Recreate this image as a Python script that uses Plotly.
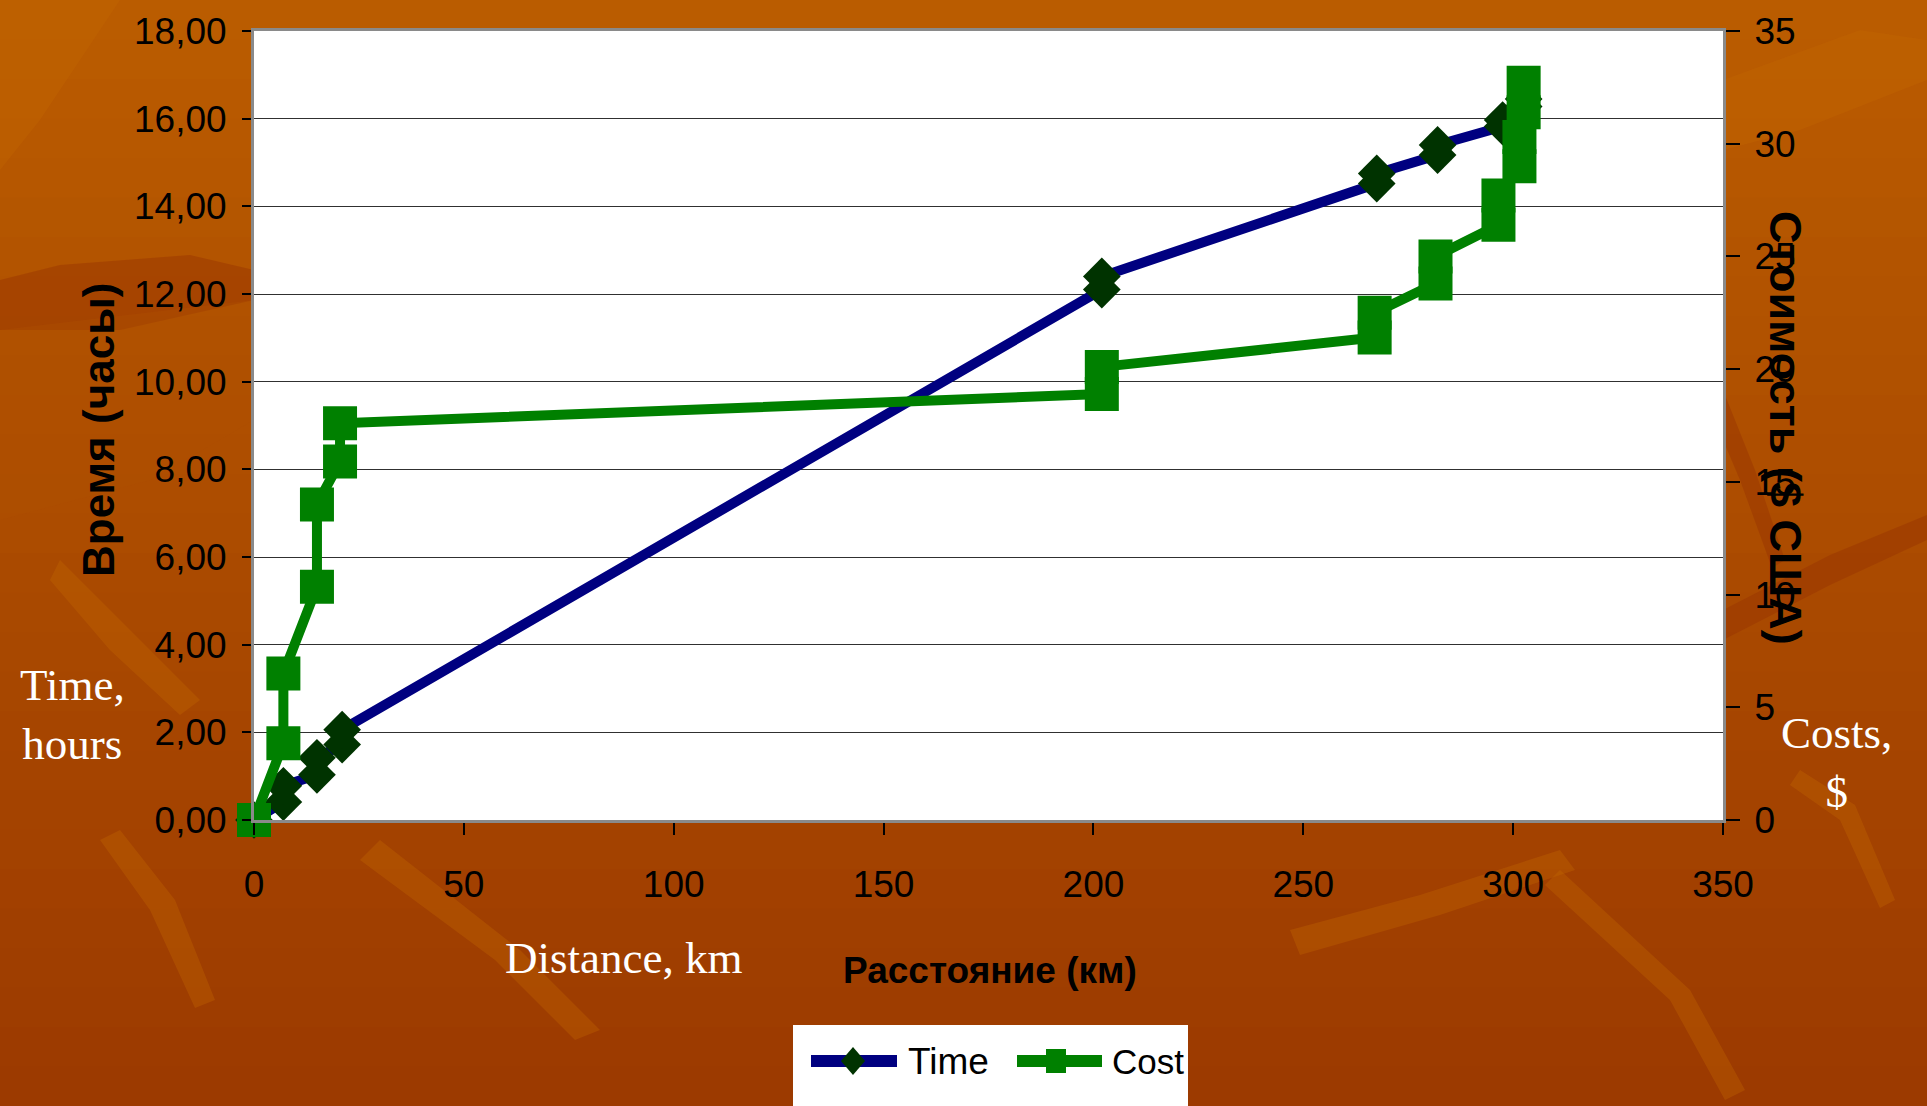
import plotly.graph_objects as go

# ---- data -------------------------------------------------------------
# travel time along the route (arrival / departure at each stop)
time_distance_km = [0, 7, 7, 15, 15, 21, 21, 202, 202, 267.5, 267.5,
                    282, 282, 297.5, 297.5, 302.5, 302.5]
time_hours = [0, 0.41, 0.78, 1.03, 1.42, 1.72, 2.06, 12.1, 12.4, 14.52, 14.75,
              15.17, 15.4, 15.82, 15.97, 16.28, 16.45]

# accumulated cost along the route
cost_distance_km = [0, 7, 7, 15, 15, 20.5, 20.5, 202, 202, 267, 267,
                    281.5, 281.5, 296.5, 296.5, 301.5, 301.5, 302.5, 302.5]
cost_usd = [0, 3.4, 6.5, 10.35, 14.0, 15.9, 17.6, 18.9, 20.1, 21.4, 22.5,
            23.8, 25.0, 26.4, 27.7, 29.0, 30.3, 31.4, 32.7]

x_ticks = [0, 50, 100, 150, 200, 250, 300, 350]
time_ticks = [0, 2, 4, 6, 8, 10, 12, 14, 16, 18]
cost_ticks = [0, 5, 10, 15, 20, 25, 30, 35]

series_names = ["Time", "Cost"]

# ---- page geometry (pixels) ------------------------------------------
W, H = 1927, 1106
PL, PR, PT, PB = 254, 1723, 31, 820


def fx(x):
    return (x - PL) / (PR - PL)


def fy(y):
    return (PB - y) / (PB - PT)


NAVY = "#000080"
GREEN = "#008000"
DARK = "#003300"
NARROW = "Liberation Sans Narrow, Arial Narrow, Liberation Sans, Arial, sans-serif"
SANS = "Liberation Sans, Arial, sans-serif"
SERIF = "Liberation Serif, Times New Roman, serif"

fig = go.Figure()

fig.add_trace(go.Scatter(
    x=time_distance_km, y=time_hours, name=series_names[0], mode="lines+markers",
    line=dict(color=NAVY, width=10),
    marker=dict(symbol="diamond", size=29, color=DARK, line=dict(width=0)),
    yaxis="y", showlegend=False, hoverinfo="skip", cliponaxis=False,
))
fig.add_trace(go.Scatter(
    x=cost_distance_km, y=cost_usd, name=series_names[1], mode="lines+markers",
    line=dict(color=GREEN, width=10),
    marker=dict(symbol="square", size=34, color=GREEN, line=dict(width=0)),
    yaxis="y2", showlegend=False, hoverinfo="skip", cliponaxis=False,
))

# ---- background: warm orange gradient with soft streaks --------------
shapes = []
top_rgb = (186, 92, 0)
bot_rgb = (156, 58, 0)
n_bands = 28
for i in range(n_bands):
    t = i / (n_bands - 1)
    c = tuple(round(a + (b - a) * t) for a, b in zip(top_rgb, bot_rgb))
    y0 = H * i / n_bands
    y1 = H * (i + 1) / n_bands + 1
    shapes.append(dict(type="rect", xref="paper", yref="paper", layer="below",
                       x0=fx(0), x1=fx(W), y0=fy(y1), y1=fy(y0),
                       line=dict(width=0), fillcolor="rgb(%d,%d,%d)" % c))


def poly(points, color):
    d = "M " + " L ".join("%.5f,%.5f" % (fx(px), fy(py)) for px, py in points) + " Z"
    shapes.append(dict(type="path", xref="paper", yref="paper", layer="below",
                       path=d, line=dict(width=0), fillcolor=color))


light = "rgba(196,104,0,0.35)"
dark = "rgba(150,50,0,0.45)"
poly([(0, 280), (60, 265), (190, 255), (254, 270), (254, 300), (120, 330), (0, 330)], dark)
poly([(0, 0), (120, 0), (40, 120), (0, 170)], light)
poly([(0, 330), (254, 300), (254, 420), (150, 480), (0, 520)], "rgba(176,80,0,0.35)")
poly([(60, 560), (150, 650), (200, 700), (180, 715), (110, 650), (50, 580)], light)
poly([(120, 830), (175, 900), (215, 1000), (195, 1008), (150, 910), (100, 840)], light)
poly([(380, 840), (520, 950), (600, 1030), (575, 1040), (495, 960), (360, 860)], light)
poly([(1290, 930), (1420, 895), (1560, 850), (1575, 870), (1440, 915), (1300, 955)], light)
poly([(1560, 870), (1690, 990), (1745, 1090), (1725, 1100), (1670, 1000), (1545, 885)], light)
poly([(1723, 80), (1860, 30), (1927, 40), (1927, 80), (1800, 130), (1723, 150)], light)
poly([(1723, 610), (1830, 555), (1927, 515), (1927, 540), (1830, 585), (1723, 640)], dark)
poly([(1723, 390), (1755, 470), (1785, 560), (1772, 568), (1740, 480), (1723, 440)], dark)
poly([(1800, 770), (1855, 805), (1895, 900), (1880, 908), (1840, 820), (1790, 785)], light)

# plot area background
shapes.append(dict(type="rect", xref="paper", yref="paper", layer="below",
                   x0=0, x1=1, y0=0, y1=1, line=dict(width=0), fillcolor="white"))

# ---- legend box -------------------------------------------------------
LEG_Y = 1061
shapes.append(dict(type="rect", xref="paper", yref="paper", layer="above",
                   x0=fx(793), x1=fx(1188), y0=fy(1106), y1=fy(1025),
                   line=dict(width=0), fillcolor="white"))
shapes.append(dict(type="line", xref="paper", yref="paper", layer="above",
                   x0=fx(811), x1=fx(897), y0=fy(LEG_Y), y1=fy(LEG_Y),
                   line=dict(color=NAVY, width=12)))
shapes.append(dict(type="path", xref="paper", yref="paper", layer="above",
                   path="M %.5f,%.5f L %.5f,%.5f L %.5f,%.5f L %.5f,%.5f Z" % (
                       fx(853), fy(LEG_Y - 14), fx(865), fy(LEG_Y),
                       fx(853), fy(LEG_Y + 14), fx(841), fy(LEG_Y)),
                   line=dict(width=0), fillcolor=DARK))
shapes.append(dict(type="line", xref="paper", yref="paper", layer="above",
                   x0=fx(1017), x1=fx(1102), y0=fy(LEG_Y), y1=fy(LEG_Y),
                   line=dict(color=GREEN, width=12)))
shapes.append(dict(type="rect", xref="paper", yref="paper", layer="above",
                   x0=fx(1046), x1=fx(1066), y0=fy(LEG_Y + 12), y1=fy(LEG_Y - 12),
                   line=dict(width=0), fillcolor=GREEN))


def note(text, x, y, font, angle=0, xanchor="center"):
    return dict(text=text, xref="paper", yref="paper", x=fx(x), y=fy(y),
                xanchor=xanchor, yanchor="middle", textangle=angle,
                showarrow=False, font=font)


annotations = [
    note(series_names[0], 906, LEG_Y, dict(family=NARROW, size=37, color="black"), xanchor="left"),
    note(series_names[1], 1110, LEG_Y, dict(family=NARROW, size=35, color="black"), xanchor="left"),
    # axis titles
    note("<b>Время (часы)</b>", 98, 430, dict(family=SANS, size=44, color="black"), angle=-90),
    note("<b>Стоимость ($ США)</b>", 1786, 428, dict(family=SANS, size=45, color="black"), angle=90),
    note("<b>Расстояние (км)</b>", 990, 970, dict(family=NARROW, size=37, color="black")),
    # English captions
    note("Time,<br>hours", 72, 714, dict(family=SERIF, size=45, color="white")),
    note("Costs,<br>$", 1836, 762, dict(family=SERIF, size=45, color="white")),
    note("Distance, km", 623, 958, dict(family=SERIF, size=45, color="white")),
]

tick_font = dict(family=NARROW, size=37, color="black")

fig.update_layout(
    width=W, height=H,
    margin=dict(l=PL, r=W - PR, t=PT, b=H - PB, pad=0, autoexpand=False),
    paper_bgcolor="#A84800",
    plot_bgcolor="rgba(0,0,0,0)",
    separators=", ",
    showlegend=False,
    shapes=shapes,
    annotations=annotations,
    xaxis=dict(
        range=[0, 350], tickvals=x_ticks, ticks="outside", ticklen=12, tickwidth=1.5,
        tickcolor="black", showgrid=False, zeroline=False,
        showline=True, linecolor="#8a8a8a", linewidth=3, mirror=True,
        tickfont=tick_font, ticklabelstandoff=18,
    ),
    yaxis=dict(
        range=[0, 18], tickvals=time_ticks, tickformat=".2f", ticks="outside",
        ticklen=9, tickwidth=1.5, tickcolor="black",
        showgrid=True, gridcolor="#303030", gridwidth=1.3, zeroline=False,
        showline=True, linecolor="#8a8a8a", linewidth=3,
        tickfont=tick_font, ticklabelstandoff=8,
    ),
    yaxis2=dict(
        range=[0, 35], tickvals=cost_ticks, overlaying="y", side="right",
        ticks="outside", ticklen=14, tickwidth=1.5, tickcolor="black",
        showgrid=False, zeroline=False,
        showline=True, linecolor="#8a8a8a", linewidth=3,
        tickfont=tick_font, ticklabelstandoff=7,
    ),
)

fig.write_html("out.html")
